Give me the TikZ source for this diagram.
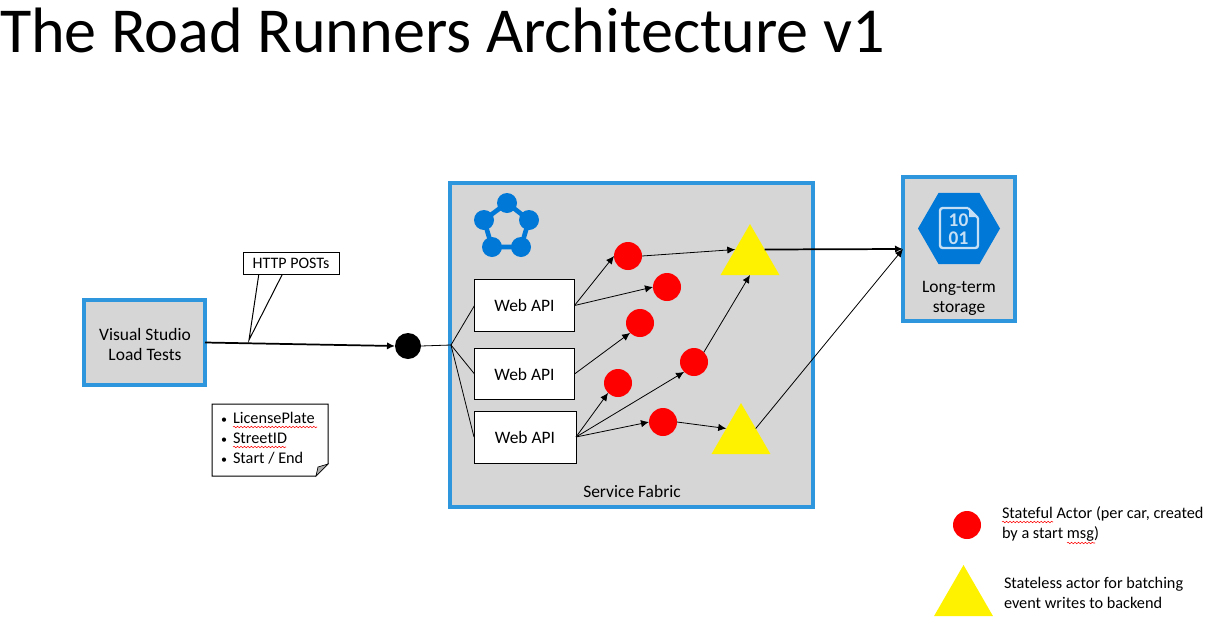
\documentclass[tikz,border=0pt]{standalone}
\usepackage{fontspec}
\setmainfont{Carlito}
\usetikzlibrary{positioning}
\usetikzlibrary{arrows.meta}
\usetikzlibrary{shapes.geometric}
\usetikzlibrary{decorations.pathmorphing}
\definecolor{boxblue}{HTML}{2E96DC}
\definecolor{boxgray}{HTML}{D6D6D6}
\definecolor{iconblue}{HTML}{0078D7}
\definecolor{iconlight}{HTML}{C6DFF4}
\newcommand{\notebullet}{\makebox[9pt][l]{\fontsize{9}{9}\selectfont\raisebox{.5pt}{\textbullet}}}

\begin{document}
\begin{tikzpicture}[
	x=.75pt, y=-.75pt,
	every node/.style={inner sep=0pt, outer sep=0pt, align=center, font=\fontsize{13.1}{15}\selectfont},
	bluebox/.style={rectangle, draw=boxblue, line width=3pt, fill=boxgray},
	webbox/.style={rectangle, draw=black, line width=.75pt, fill=white, minimum width=75pt, minimum height=38.5pt},
	rednode/.style={circle, fill=red, minimum size=21pt},
	yellownode/.style={regular polygon, regular polygon sides=3, fill=yellow, minimum size=51pt},
	blacknode/.style={circle, fill=black, minimum size=19.5pt},
	iconnode/.style={circle, fill=iconblue, minimum size=15pt},
	smalltext/.style={font=\fontsize{12.2}{15}\selectfont, align=left},
	arrow/.style={-{Latex[length=6pt,width=5.5pt]}, line width=.6pt},
	thickarrow/.style={-{Latex[length=6pt,width=5.5pt]}, line width=1.3pt},
	squiggle/.style={red, line width=.4pt, decorate, decoration={snake, amplitude=.55pt, segment length=2.6pt}},
	]
	\useasboundingbox (0,0) rectangle (1218,629);
	%Nodes
	\node[anchor=base west, font=\fontsize{48.1}{50}\selectfont] (title) at (0,52) {The Road Runners Architecture v1};
	\node[bluebox, minimum width=272.25pt, minimum height=243pt] (fabric) at (631.5,345) {};
	\node (fabriclabel) at (632,491) {Service Fabric};
	\node[bluebox, minimum width=90.75pt, minimum height=63.75pt] (loadtests) at (144.5,342.5) {};
	\node (loadlabel) at (145,344.5) {Visual Studio\\Load Tests};
	\node[bluebox, minimum width=84pt, minimum height=108pt] (storage) at (959,249) {};
	\node (storagelabel) at (959,298.5) {Long-term\\storage};

	\node[webbox] (web1) at (524.5,305.5) {Web API};
	\node[webbox] (web2) at (524.5,374) {Web API};
	\node[webbox, minimum width=76.5pt, minimum height=39pt] (web3) at (525,437) {Web API};

	\node[blacknode] (gate) at (408,346) {};
	\coordinate (hub) at (451,345);

	\node[rednode] (red1) at (628,256) {};
	\node[rednode] (red2) at (667,287) {};
	\node[rednode] (red3) at (640,323) {};
	\node[rednode] (red4) at (618,383) {};
	\node[rednode] (red5) at (694,362) {};
	\node[rednode] (red6) at (663,422) {};
	\node[yellownode] (tri1) at (750,258) {};
	\node[yellownode] (tri2) at (741,437) {};

	%Service Fabric icon
	\node[iconnode] (icon1) at (507,203) {};
	\node[iconnode] (icon2) at (529,220) {};
	\node[iconnode] (icon3) at (521,247) {};
	\node[iconnode] (icon4) at (492,247) {};
	\node[iconnode] (icon5) at (484,220) {};
	\draw[iconblue, line width=3.5pt] (icon1.center) -- (icon2.center) -- (icon3.center) -- (icon4.center) -- (icon5.center) -- cycle;

	%Storage icon
	\node[regular polygon, regular polygon sides=6, fill=iconblue, minimum size=61.5pt] (hexagon) at (959,228.5) {};
	\draw[iconlight, line width=1.8pt, rounded corners=2pt] (968,208) -- (940,208) -- (940,248) -- (978,248) -- (978,218);
	\draw[iconlight, line width=1.8pt] (968,208) -- (978,218);
	\fill[iconlight] (969,209) -- (969,217) -- (977,217) -- cycle;
	\node[text=iconlight, font=\fontsize{14.5}{13.5}\bfseries\selectfont] (bits) at (958.5,229) {10\\01};

	%Callout
	\draw[line width=.75pt, fill=white] (259,273) -- (249,340) -- (283,273);
	\node[rectangle, draw=black, line width=.75pt, fill=white, minimum width=72pt, minimum height=16.5pt, font=\fontsize{12}{13}\selectfont] (posts) at (291,263) {HTTP POSTs};

	%Note
	\draw[line width=.75pt, fill=white] (212,404) -- (328,404) -- (328,464) -- (316,476) -- (212,476) -- cycle;
	\draw[line width=.5pt, fill=boxgray!80!black] (328,464) -- (318,467) -- (316,476) -- cycle;
	\node[smalltext, anchor=west] (fields) at (221,438.5) {\notebullet LicensePlate\\\notebullet StreetID\\\notebullet Start / End};
	\draw[squiggle] (233,427) -- (317,427);
	\draw[squiggle] (233,447) -- (286,447);

	%Legend
	\node[rednode] (legendred) at (967,525) {};
	\node[yellownode] (legendtri) at (963.5,599) {};
	\node[smalltext, anchor=west] (legendredlabel) at (1002,524) {Stateful Actor (per car, created\\by a start msg)};
	\node[smalltext, anchor=west] (legendtrilabel) at (1004,593) {Stateless actor for batching\\event writes to backend};
	\draw[squiggle] (1002,522) -- (1053,522);
	\draw[squiggle] (1067,543) -- (1095,543);

	%Connectors
	\draw[thickarrow] (loadtests.east) -- (gate.west);
	\draw[line width=.6pt] (gate.east) -- (hub);
	\draw[line width=.6pt] (hub) -- (web1.west);
	\draw[line width=.6pt] (hub) -- (web2.west);
	\draw[line width=.6pt] (hub) -- (web3.west);

	\draw[arrow] (web1.east) -- (red1.west);
	\draw[arrow] (web1.east) -- (red2.west);
	\draw[arrow] (web2.east) -- (red3.south west);
	\draw[arrow] (web3.east) -- (red4.south west);
	\draw[arrow] (web3.east) -- (red5.south west);
	\draw[arrow] (web3.east) -- (red6.west);
	\draw[arrow] (red1.east) -- (tri1.side 1);
	\draw[arrow] (red5.north east) -- (tri1.side 2);
	\draw[arrow] (red6.east) -- (tri2.side 1);
	\draw[thickarrow] (tri1.side 3) -- (storage.west);
	\draw[arrow] (tri2.side 3) -- (storage.west);
\end{tikzpicture}
\end{document}
